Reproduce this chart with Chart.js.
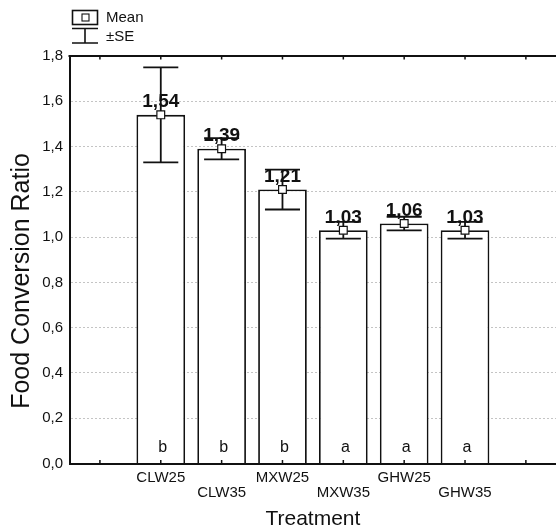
<!DOCTYPE html>
<html>
<head>
<meta charset="utf-8">
<script src="https://cdn.jsdelivr.net/npm/chart.js@4.4.0/dist/chart.umd.min.js"></script>
<style>
  html, body { margin: 0; padding: 0; background: #fff; overflow: hidden; width: 556px; height: 532px; }
  canvas { display: block; }
</style>
</head>
<body>
<!-- canvas runs a few px past the window so the plot reaches the right edge like the cropped original -->
<canvas id="myChart" width="563" height="532"></canvas>
<script>
    // data (empty slots at both ends)
    var treatments = ['', 'CLW25', 'CLW35', 'MXW25', 'MXW35', 'GHW25', 'GHW35', ''];
    var means = [null, 1.54, 1.39, 1.21, 1.03, 1.06, 1.03, null];
    var se = [null, 0.21, 0.047, 0.088, 0.037, 0.03, 0.037, null];
    var groups = ['', 'b', 'b', 'b', 'a', 'a', 'a', ''];
    var yTicks = [0, 0.2, 0.4, 0.6, 0.8, 1.0, 1.2, 1.4, 1.6, 1.8];

    var FONT = "'Liberation Sans', Arial, sans-serif";
    Chart.defaults.font.family = FONT;
    Chart.defaults.color = '#111';

    function comma(v, d) {
        return v.toFixed(d).replace('.', ',');
    }

    // every second label goes on the second row
    var xLabels = treatments.map(function (t, i) {
        return (i % 2 == 0 && t) ? ['', t] : t;
    });

    var extras = {
        id: 'extras',
        afterDatasetDraw: function (chart, args) {
            if (args.index !== 0) return;
            var ctx = chart.ctx, y = chart.scales.y;
            ctx.save();
            ctx.strokeStyle = '#111';
            ctx.lineWidth = 1.8;
            args.meta.data.forEach(function (bar, i) {
                if (means[i] == null) return;
                var top = y.getPixelForValue(means[i] + se[i]);
                var bot = y.getPixelForValue(means[i] - se[i]);
                var half = bar.width * 0.36;
                ctx.beginPath();
                ctx.moveTo(bar.x, top); ctx.lineTo(bar.x, bot);
                ctx.moveTo(bar.x - half, top); ctx.lineTo(bar.x + half, top);
                ctx.moveTo(bar.x - half, bot); ctx.lineTo(bar.x + half, bot);
                ctx.stroke();
            });
            ctx.restore();
        },
        afterDatasetsDraw: function (chart) {
            var ctx = chart.ctx, x = chart.scales.x, y = chart.scales.y;
            var area = chart.chartArea;
            ctx.save();
            // top frame line and small inner ticks
            ctx.strokeStyle = '#111';
            ctx.lineWidth = 2;
            ctx.beginPath();
            ctx.moveTo(area.left - 1, area.top);
            ctx.lineTo(area.right, area.top);
            ctx.stroke();
            ctx.lineWidth = 1.5;
            ctx.beginPath();
            treatments.forEach(function (t, i) {
                var px = x.getPixelForValue(i);
                ctx.moveTo(px, area.bottom); ctx.lineTo(px, area.bottom - 3.5);
                ctx.moveTo(px, area.top); ctx.lineTo(px, area.top + 3.5);
            });
            ctx.stroke();

            // mean labels and group letters
            ctx.textAlign = 'center';
            ctx.textBaseline = 'alphabetic';
            ctx.fillStyle = '#111';
            treatments.forEach(function (t, i) {
                if (means[i] == null) return;
                var px = x.getPixelForValue(i);
                ctx.font = 'bold 19px ' + FONT;
                ctx.fillText(comma(means[i], 2), px, y.getPixelForValue(means[i]) - 7.5);
                ctx.font = '16px ' + FONT;
                ctx.fillText(groups[i], px + 2, y.getPixelForValue(0) - 11.5);
            });
            ctx.restore();
        },
        afterDraw: function (chart) {
            var ctx = chart.ctx;
            ctx.save();
            // legend: mean box and whisker
            ctx.strokeStyle = '#111';
            ctx.lineWidth = 1.6;
            ctx.strokeRect(72.5, 10.5, 25, 14);
            ctx.lineWidth = 1.1;
            ctx.fillStyle = '#fff';
            ctx.fillRect(82, 14, 7, 7);
            ctx.strokeRect(82, 14, 7, 7);
            ctx.lineWidth = 1.6;
            ctx.beginPath();
            ctx.moveTo(72, 28.5); ctx.lineTo(98, 28.5);
            ctx.moveTo(85, 28.5); ctx.lineTo(85, 43);
            ctx.moveTo(72, 43); ctx.lineTo(98, 43);
            ctx.stroke();
            ctx.fillStyle = '#111';
            ctx.font = '15px ' + FONT;
            ctx.textAlign = 'left';
            ctx.textBaseline = 'middle';
            ctx.fillText('Mean', 106, 18);
            ctx.fillText('\u00b1SE', 106, 37);

            // y axis title
            ctx.translate(22, 281);
            ctx.rotate(-Math.PI / 2);
            ctx.textAlign = 'center';
            ctx.font = '25px ' + FONT;
            ctx.fillText('Food Conversion Ratio', 0, 0);
            ctx.restore();
        }
    };

    var ctx = document.getElementById('myChart').getContext('2d');
    var chart = new Chart(ctx, {
        type: 'bar',
        data: {
            labels: xLabels,
            datasets: [{
                type: 'bar',
                label: 'Mean',
                data: means,
                order: 2,
                backgroundColor: '#fff',
                borderColor: '#111',
                borderWidth: 1.8,
                barPercentage: 0.8,
                categoryPercentage: 1.0
            }, {
                type: 'line',
                label: 'Mean point',
                data: means,
                order: 1,
                showLine: false,
                pointStyle: 'rect',
                pointRadius: 5.5,
                pointBackgroundColor: '#fff',
                pointBorderColor: '#111',
                pointBorderWidth: 1.2
            }]
        },
        options: {
            responsive: false,
            animation: false,
            events: [],
            layout: { padding: { top: 56, left: 0, right: 0, bottom: 0 } },
            plugins: {
                legend: { display: false },
                tooltip: { enabled: false }
            },
            scales: {
                x: {
                    offset: true,
                    grid: { display: false, drawTicks: true, tickLength: 6 },
                    border: { display: true, color: '#111', width: 2 },
                    ticks: {
                        autoSkip: false,
                        maxRotation: 0,
                        padding: 0,
                        color: '#111',
                        font: { size: 15, lineHeight: 1.05 }
                    },
                    title: {
                        display: true,
                        text: 'Treatment',
                        color: '#111',
                        font: { size: 21, lineHeight: 1.2 },
                        padding: 0
                    },
                    afterFit: function (scale) { scale.height = 68.5; }
                },
                y: {
                    min: 0,
                    max: 1.8,
                    grid: { color: '#c4c4c4', lineWidth: 1, drawTicks: false },
                    border: { display: true, color: '#111', width: 2, dash: [2, 2] },
                    ticks: {
                        padding: 6.5,
                        color: '#111',
                        font: { size: 15 },
                        callback: function (v) { return comma(v, 1); }
                    },
                    afterBuildTicks: function (scale) {
                        scale.ticks = yTicks.map(function (v) { return { value: v }; });
                    },
                    afterFit: function (scale) { scale.width = 69.5; }
                }
            }
        },
        plugins: [extras]
    });
</script>
</body>
</html>
